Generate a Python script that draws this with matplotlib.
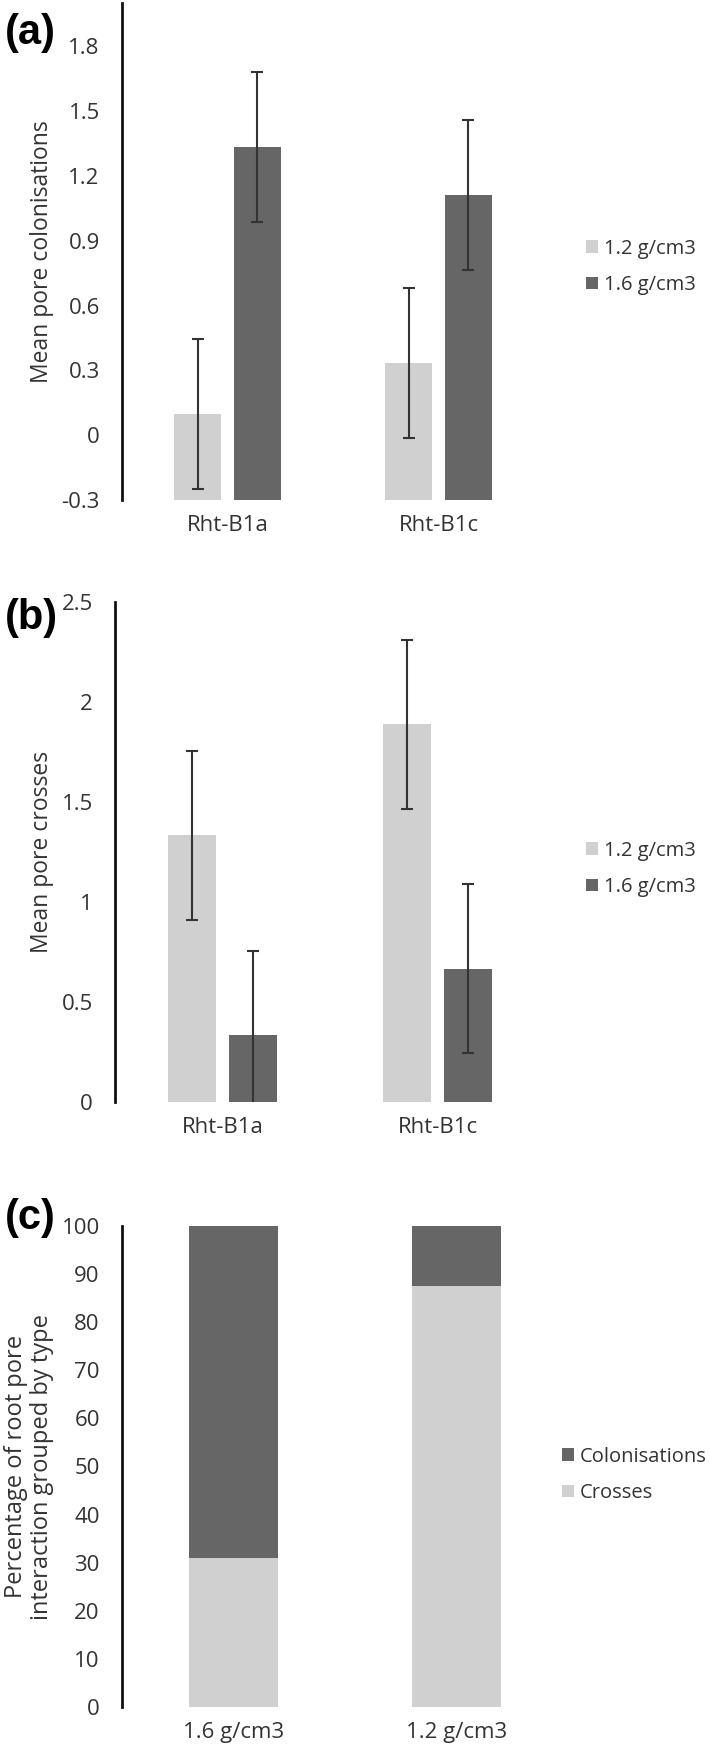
import matplotlib
matplotlib.use("Agg")
import matplotlib.pyplot as plt
import numpy as np

# --- data -------------------------------------------------------------
genotypes = ["Rht-B1a", "Rht-B1c"]
densities = ["1.2 g/cm3", "1.6 g/cm3"]

colonisations_12 = [0.10, 0.333]
colonisations_16 = [1.333, 1.111]
colonisations_err_12 = [0.347, 0.347]
colonisations_err_16 = [0.347, 0.347]

crosses_12 = [1.333, 1.889]
crosses_16 = [0.333, 0.667]
crosses_err_12 = [0.422, 0.422]
crosses_err_16 = [0.422, 0.422]

pct_categories = ["1.6 g/cm3", "1.2 g/cm3"]
pct_crosses = [31.0, 87.5]
pct_colonisations = [69.0, 12.5]

# --- style ------------------------------------------------------------
W, H = 709, 1751
LIGHT = "#d0d0d0"
DARK = "#666666"
TEXT = "#333333"
ERR = "#333333"
FS_TICK = 16
FS_LEG = 14.5

plt.rcParams["font.family"] = ["Open Sans", "DejaVu Sans"]
plt.rcParams["text.color"] = TEXT
plt.rcParams["axes.labelcolor"] = TEXT


def rect(left, top, right, bottom):
    """Pixel box -> figure fraction [l, b, w, h]."""
    return [left / W, 1 - bottom / H, (right - left) / W, (bottom - top) / H]


def style_axes(ax):
    for side in ("top", "right", "bottom"):
        ax.spines[side].set_visible(False)
    ax.spines["left"].set_linewidth(2.0)
    ax.spines["left"].set_color("#111111")
    ax.tick_params(axis="both", length=0, labelsize=FS_TICK, colors=TEXT)
    ax.tick_params(axis="y", pad=16)
    ax.tick_params(axis="x", pad=11)


def add_legend(ax, handles, labels, x_px, y_px):
    ax.legend(handles, labels, loc="center left",
              bbox_to_anchor=(x_px / W, 1 - y_px / H),
              bbox_transform=ax.figure.transFigure,
              frameon=False, fontsize=FS_LEG, borderpad=0, borderaxespad=0,
              handlelength=0.6, handleheight=0.6, handletextpad=0.3,
              labelspacing=0.8)


def grouped(ax, v12, v16, e12, e16, base):
    # Excel draws the bars up from the axis minimum
    x = np.arange(len(genotypes))
    off, w = 0.142, 0.223
    b1 = ax.bar(x - off, np.array(v12) - base, w, bottom=base, color=LIGHT)
    b2 = ax.bar(x + off, np.array(v16) - base, w, bottom=base, color=DARK)
    err_kw = dict(fmt="none", ecolor=ERR, elinewidth=1.5, capsize=4, capthick=1.5)
    ax.errorbar(x - off, v12, yerr=e12, **err_kw)
    ax.errorbar(x + off, v16, yerr=e16, **err_kw)
    ax.set_xticks(x)
    ax.set_xticklabels(genotypes)
    ax.set_xlim(-0.5, 1.5)
    return b1, b2


fig = plt.figure(figsize=(W / 100, H / 100), dpi=100)

# (a) colonisations
ax_a = fig.add_axes(rect(122, 3, 544, 500))
h = grouped(ax_a, colonisations_12, colonisations_16,
            colonisations_err_12, colonisations_err_16, -0.3)
ax_a.set_ylim(-0.3, 2.0)
ax_a.set_yticks(np.arange(-0.3, 1.81, 0.3))
ax_a.set_yticklabels(["-0.3", "0", "0.3", "0.6", "0.9", "1.2", "1.5", "1.8"])
ax_a.set_ylabel("Mean pore colonisations", fontsize=16.5, va="center")
ax_a.yaxis.set_label_coords((42 - 122) / 422, 0.5)
style_axes(ax_a)
add_legend(ax_a, h, densities, 586, 267)

# (b) crosses
ax_b = fig.add_axes(rect(115, 602, 545, 1102))
h = grouped(ax_b, crosses_12, crosses_16, crosses_err_12, crosses_err_16, 0)
ax_b.set_ylim(0, 2.5)
ax_b.set_yticks([0, 0.5, 1, 1.5, 2, 2.5])
ax_b.set_yticklabels(["0", "0.5", "1", "1.5", "2", "2.5"])
ax_b.set_ylabel("Mean pore crosses", fontsize=16.5, va="center")
ax_b.yaxis.set_label_coords((42 - 115) / 430, 0.5)
style_axes(ax_b)
add_legend(ax_b, h, densities, 586, 869)

# (c) percentage stacked
ax_c = fig.add_axes(rect(122, 1226, 568, 1707))
xc = np.arange(len(pct_categories))
bc1 = ax_c.bar(xc, pct_crosses, 0.40, color=LIGHT)
bc2 = ax_c.bar(xc, pct_colonisations, 0.40, bottom=pct_crosses, color=DARK)
ax_c.set_xticks(xc)
ax_c.set_xticklabels(pct_categories)
ax_c.set_xlim(-0.5, 1.5)
ax_c.set_ylim(0, 100)
ax_c.set_yticks(np.arange(0, 101, 10))
ax_c.set_ylabel("Percentage of root pore\ninteraction grouped by type",
                fontsize=17, va="center", linespacing=1.15)
ax_c.yaxis.set_label_coords((29 - 122) / 446, 0.5)
style_axes(ax_c)
add_legend(ax_c, [bc2, bc1], ["Colonisations", "Crosses"], 562, 1475)

# panel letters
for letter, ypx in (("(a)", 33), ("(b)", 618), ("(c)", 1218)):
    fig.text(5 / W, 1 - ypx / H, letter, fontsize=30, fontweight="bold",
             family="Liberation Sans", color="black", ha="left", va="center")

fig.savefig("out.png", dpi=100)
